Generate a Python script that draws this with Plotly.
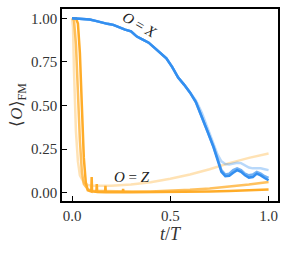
import plotly.graph_objects as go

# ---- data ----
t_x = [0, 0.05, 0.09, 0.12, 0.15, 0.18, 0.21, 0.24, 0.27, 0.30, 0.33, 0.36, 0.39,
       0.42, 0.45, 0.48, 0.51, 0.54, 0.57, 0.60, 0.63, 0.66, 0.69, 0.72, 0.74,
       0.76, 0.78, 0.80, 0.82, 0.84, 0.86, 0.88, 0.90, 0.92, 0.94, 0.96, 0.98, 1.0]
x_dark = [1.0, 0.998, 0.993, 0.985, 0.975, 0.968, 0.962, 0.948, 0.935, 0.925, 0.895,
          0.878, 0.86, 0.83, 0.80, 0.77, 0.72, 0.66, 0.62, 0.575, 0.52, 0.44, 0.35,
          0.26, 0.19, 0.12, 0.095, 0.098, 0.115, 0.13, 0.12, 0.10, 0.087, 0.09,
          0.11, 0.10, 0.085, 0.072]
x_mid = [1.0, 0.998, 0.993, 0.985, 0.975, 0.968, 0.962, 0.948, 0.935, 0.925, 0.895,
         0.878, 0.86, 0.83, 0.80, 0.77, 0.72, 0.66, 0.62, 0.575, 0.52, 0.44, 0.35,
         0.265, 0.2, 0.13, 0.105, 0.11, 0.13, 0.14, 0.13, 0.11, 0.10, 0.105,
         0.12, 0.11, 0.095, 0.085]
x_light = [1.0, 0.998, 0.993, 0.985, 0.975, 0.968, 0.962, 0.948, 0.935, 0.925, 0.895,
           0.878, 0.86, 0.83, 0.80, 0.77, 0.72, 0.66, 0.62, 0.578, 0.53, 0.46, 0.37,
           0.28, 0.22, 0.18, 0.165, 0.162, 0.165, 0.172, 0.17, 0.155, 0.145, 0.14,
           0.14, 0.14, 0.135, 0.13]

t_zl = [0, 0.005, 0.01, 0.02, 0.03, 0.04, 0.06, 0.08, 0.1, 0.15, 0.2, 0.3, 0.4,
        0.5, 0.6, 0.7, 0.8, 0.9, 1.0]
z_light = [1.0, 0.95, 0.7, 0.35, 0.18, 0.1, 0.06, 0.045, 0.04, 0.038, 0.04, 0.048,
           0.06, 0.08, 0.105, 0.135, 0.17, 0.2, 0.225]

t_zm = [0, 0.01, 0.02, 0.03, 0.04, 0.05, 0.06, 0.08, 0.1, 0.15, 0.2, 0.3, 0.4,
        0.5, 0.6, 0.7, 0.8, 0.9, 1.0]
z_mid = [1.0, 0.99, 0.85, 0.55, 0.3, 0.12, 0.05, 0.02, 0.012, 0.01, 0.008, 0.007,
         0.008, 0.011, 0.017, 0.025, 0.035, 0.047, 0.062]

t_zd = [0, 0.02, 0.03, 0.04, 0.05, 0.06, 0.07, 0.08, 0.098, 0.100, 0.102, 0.12,
        0.124, 0.126, 0.128, 0.168, 0.17, 0.172, 0.258, 0.26, 0.262, 0.3, 0.4,
        0.5, 0.6, 0.7, 0.8, 0.9, 1.0]
z_dark = [1.0, 1.0, 0.97, 0.8, 0.5, 0.2, 0.06, 0.015, 0.008, 0.09, 0.008, 0.005,
          0.005, 0.05, 0.005, 0.004, 0.04, 0.004, 0.003, 0.022, 0.003, 0.003, 0.003,
          0.004, 0.005, 0.007, 0.01, 0.014, 0.019]

BLUE = "51,143,240"
ORANGE = "255,172,40"

fig = go.Figure()
for tx, ys, col, a in [
    (t_zl, z_light, ORANGE, 0.35),
    (t_zm, z_mid, ORANGE, 0.75),
    (t_zd, z_dark, ORANGE, 1.0),
    (t_x, x_light, BLUE, 0.35),
    (t_x, x_mid, BLUE, 0.7),
    (t_x, x_dark, BLUE, 1.0),
]:
    fig.add_trace(go.Scatter(x=tx, y=ys, mode="lines",
                             line=dict(color=f"rgba({col},{a})", width=2.5),
                             showlegend=False, hoverinfo="skip"))

FONT = "Liberation Serif"
fig.add_annotation(x=0.345, y=0.96, text="<i>O</i> = <i>X</i>", showarrow=False,
                   textangle=30, font=dict(family=FONT, size=15, color="#222"))
fig.add_annotation(x=0.305, y=0.09, text="<i>O</i> = <i>Z</i>", showarrow=False,
                   font=dict(family=FONT, size=15, color="#222"))

axis_common = dict(showgrid=False, zeroline=False, showline=True, linecolor="black",
                   linewidth=1.5, mirror=True, ticks="inside", ticklen=5,
                   tickwidth=1.2, tickcolor="black",
                   tickfont=dict(family=FONT, size=15, color="#333"))
fig.update_xaxes(range=[-0.051, 1.048], tickvals=[0, 0.5, 1.0],
                 ticktext=["0.0", "0.5", "1.0"],
                 title=dict(text="<i>t</i>/<i>T</i>", font=dict(family=FONT, size=18, color="#333"),
                            standoff=2),
                 **axis_common)
fig.update_yaxes(range=[-0.047, 1.053], tickvals=[0, 0.25, 0.5, 0.75, 1.0],
                 ticktext=["0.00", "0.25", "0.50", "0.75", "1.00"],
                 title=dict(text="⟨<i>O</i>⟩<sub>FM</sub>", font=dict(family=FONT, size=17, color="#333"),
                            standoff=4),
                 **axis_common)
fig.update_layout(width=287, height=253, margin=dict(l=62, r=9, t=7, b=52),
                  plot_bgcolor="white", paper_bgcolor="white")
fig.write_html("out.html", config={"displayModeBar": False},
               post_script="document.body.style.margin='0';document.body.style.overflow='hidden';")
